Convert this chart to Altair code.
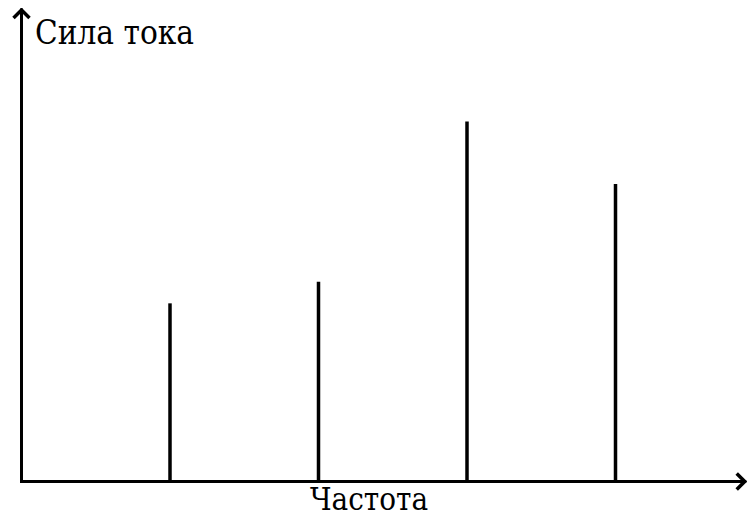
import altair as alt
import pandas as pd

# Data
positions = [1, 2, 3, 4]
currents = [2.97, 3.33, 6.0, 4.96]
x_end = 4.87
y_end = 7.86
y_label = "Сила тока"
x_label = "Частота"

FONT = "DejaVu Serif Condensed"

bars_df = pd.DataFrame({"f": positions, "i": currents, "zero": [0] * len(positions)})
axes_df = pd.DataFrame({
    "x": [0, 0], "y": [0, 0],
    "x2": [0, x_end], "y2": [y_end, 0],
})
arrows_df = pd.DataFrame({"x": [0, x_end], "y": [y_end, 0], "ang": [0, 90]})

# unit of 148.5 px along x, origin at 13.5
xs = alt.Scale(domain=[0, x_end], range=[13.5, 13.5 + 148.5 * x_end], nice=False, zero=False)
ys = alt.Scale(domain=[0, y_end], range=[473.5, 2], nice=False, zero=False)

bars = alt.Chart(bars_df).mark_rule(color="black", strokeWidth=3.5).encode(
    x=alt.X("f:Q", scale=xs, axis=None),
    y=alt.Y("zero:Q", scale=ys, axis=None),
    y2="i:Q",
)

axes = alt.Chart(axes_df).mark_rule(color="black", strokeWidth=3, strokeCap="square").encode(
    x=alt.X("x:Q", scale=xs, axis=None),
    y=alt.Y("y:Q", scale=ys, axis=None),
    x2="x2:Q",
    y2="y2:Q",
)

arrows = alt.Chart(arrows_df).mark_point(
    shape="M -1 1 L 0 0 L 1 1",
    filled=False,
    color="black",
    strokeWidth=3.5,
    size=256,
    opacity=1,
    strokeJoin="miter",
).encode(
    x=alt.X("x:Q", scale=xs, axis=None),
    y=alt.Y("y:Q", scale=ys, axis=None),
    angle=alt.Angle("ang:Q", scale=None),
)

ytitle = alt.Chart(pd.DataFrame({"t": [y_label]})).mark_text(
    font=FONT, fontSize=33, align="left", baseline="alphabetic", color="black"
).encode(text="t:N", x=alt.value(27), y=alt.value(36))

xtitle = alt.Chart(pd.DataFrame({"t": [x_label]})).mark_text(
    font=FONT, fontSize=31, align="center", baseline="alphabetic", color="black"
).encode(text="t:N", x=alt.value(361), y=alt.value(502))

chart = alt.layer(axes, bars, arrows, ytitle, xtitle).properties(
    width=739, height=509, padding=0, autosize=alt.AutoSizeParams(type="none"),
    background="white",
).configure_view(stroke=None)

chart.save("out.html", embed_options={"renderer": "svg", "actions": False})
